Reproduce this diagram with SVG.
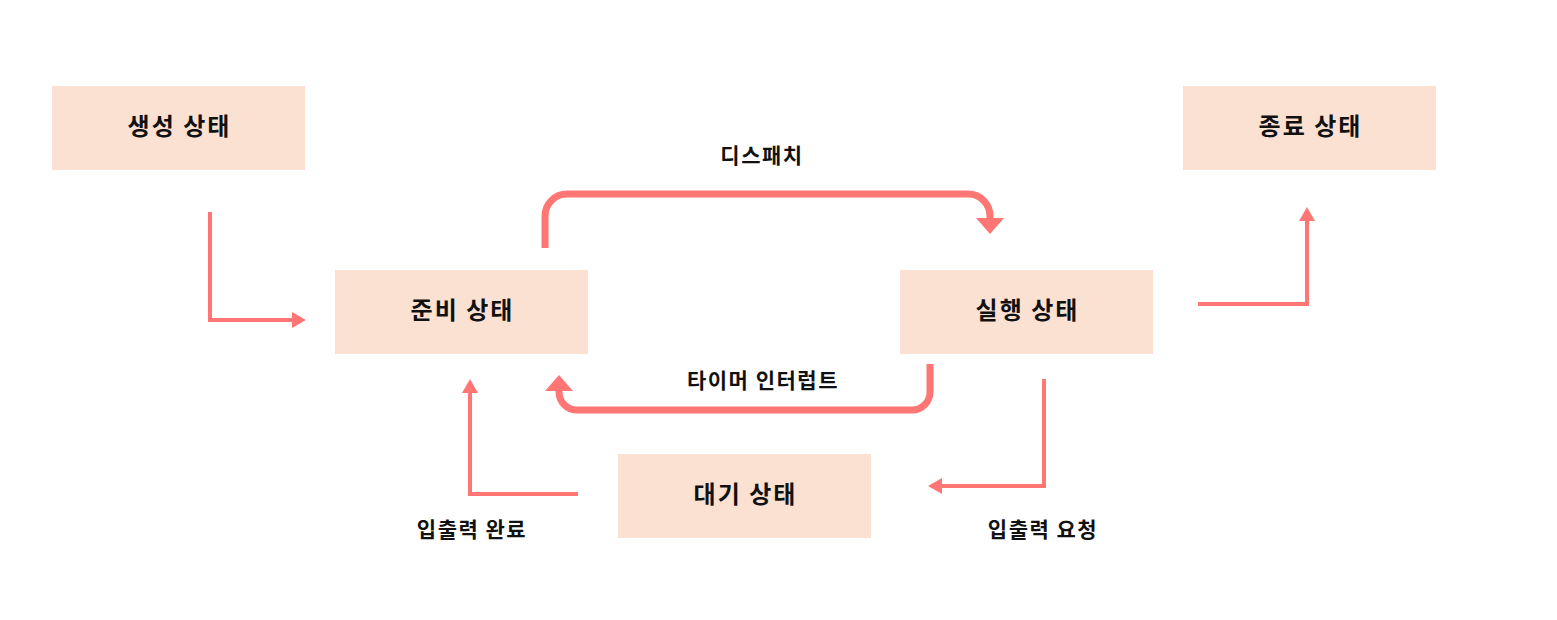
<svg xmlns="http://www.w3.org/2000/svg" width="1557" height="620" viewBox="0 0 1557 620">
<defs>
<style>
.box{fill:#FAE1D1;}
.nt{font-family:"Noto Sans CJK KR","Noto Sans",sans-serif;font-weight:bold;font-size:24px;letter-spacing:2px;fill:#111;text-anchor:middle;dominant-baseline:central;}
.lt{font-family:"Noto Sans CJK KR","Noto Sans",sans-serif;font-weight:bold;font-size:21px;letter-spacing:1.5px;fill:#111;text-anchor:middle;dominant-baseline:central;}
.thin{fill:none;stroke:#FF7675;stroke-width:4;marker-end:url(#ah);}
.thick{fill:none;stroke:#FF7675;stroke-width:7;marker-end:url(#ahb);}
</style>
<marker id="ah" markerUnits="userSpaceOnUse" markerWidth="20" markerHeight="20" viewBox="0 -10 16 20" refX="0" refY="0" orient="auto">
<path d="M0,-8 L14,0 L0,8 z" fill="#FF7675"/>
</marker>
<marker id="ahb" markerUnits="userSpaceOnUse" markerWidth="20" markerHeight="32" viewBox="0 -16 18 32" refX="0" refY="0" orient="auto">
<path d="M0,-14 L16,0 L0,14 z" fill="#FF7675"/>
</marker>
</defs>
<rect width="1557" height="620" fill="#fff"/>
<g id="connectors">
<path class="thin" d="M210,212 V320 H292"/>
<path class="thick" d="M545,248 V216 A22,22 0 0 1 567,194 H968 A22,22 0 0 1 990,216 V218"/>
<path class="thick" d="M930,364 V392 A18,18 0 0 1 912,410 H577 A18,18 0 0 1 559,392 V391"/>
<path class="thin" d="M578,494 H470 V393"/>
<path class="thin" d="M1044,379 V486 H942"/>
<path class="thin" d="M1198,304 H1307 V221"/>
<text class="lt" x="762" y="153.5">디스패치</text>
<text class="lt" x="763" y="378.5">타이머 인터럽트</text>
<text class="lt" x="472" y="527.5">입출력 완료</text>
<text class="lt" x="1043" y="527.5">입출력 요청</text>
</g>
<g id="node-create">
<rect class="box" x="52" y="86" width="253" height="84"/>
<text class="nt" x="179.5" y="124">생성 상태</text>
</g>
<g id="node-exit">
<rect class="box" x="1183" y="86" width="253" height="84"/>
<text class="nt" x="1310.5" y="124">종료 상태</text>
</g>
<g id="node-ready">
<rect class="box" x="335" y="270" width="253" height="84"/>
<text class="nt" x="462.5" y="308">준비 상태</text>
</g>
<g id="node-running">
<rect class="box" x="900" y="270" width="253" height="84"/>
<text class="nt" x="1027.5" y="308">실행 상태</text>
</g>
<g id="node-waiting">
<rect class="box" x="618" y="454" width="253" height="84"/>
<text class="nt" x="745.5" y="492">대기 상태</text>
</g>
</svg>
